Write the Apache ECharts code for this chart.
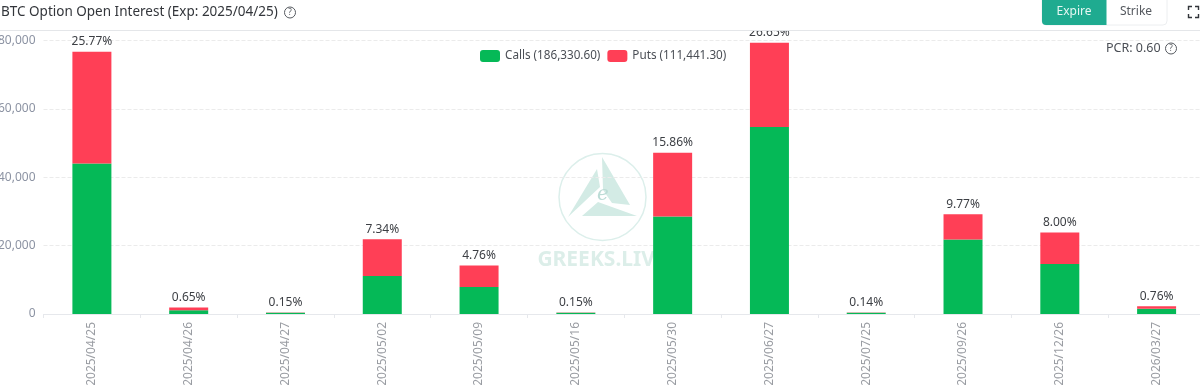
<!DOCTYPE html>
<html>
<head>
<meta charset="utf-8">
<style>html,body{margin:0;padding:0;background:#fff}#c{width:1200px;height:385px}</style>
<script src="https://cdn.jsdelivr.net/npm/echarts@6/dist/echarts.min.js"></script>
</head>
<body>
<div id="c"></div>
<script>
const categories = ['2025/04/25','2025/04/26','2025/04/27','2025/05/02','2025/05/09','2025/05/16','2025/05/30','2025/06/27','2025/07/25','2025/09/26','2025/12/26','2026/03/27'];
const calls = [44000,1100,380,11100,7900,380,28500,54700,350,21800,14650,1500];
const puts = [32700,835,67,10750,6270,67,18700,24650,67,7390,9220,760];
const shares = ['25.77%','0.65%','0.15%','7.34%','4.76%','0.15%','15.86%','26.65%','0.14%','9.77%','8.00%','0.76%'];
const callsName = 'Calls (186,330.60)';
const putsName = 'Puts (111,441.30)';
const titleText = 'BTC Option Open Interest (Exp: 2025/04/25)';
const pcrText = 'PCR: 0.60';

const FONT = '"Noto Sans", sans-serif';
const HELP = (cx, cy) => ([
  {type:'circle', shape:{cx, cy, r:5.5}, style:{fill:'none', stroke:'#55595f', lineWidth:1}, zlevel:2},
  {type:'text', x:cx, y:cy, style:{text:'?', fill:'#55595f', font:'8px '+FONT, align:'center', verticalAlign:'middle'}, zlevel:2}
]);
const corner = pts => ({type:'polyline', shape:{points:pts}, style:{fill:'none', stroke:'#33363b', lineWidth:1.4}, zlevel:2});

const chart = echarts.init(document.getElementById('c'), null, {renderer:'canvas'});
chart.setOption({
  animation:false,
  textStyle:{fontFamily:FONT},
  grid:{left:43.5, right:-5, top:40.5, bottom:71, containLabel:false, outerBoundsMode:'none'},
  legend:{
    left:475, top:45, itemWidth:20, itemHeight:12, itemGap:7,
    icon:'roundRect',
    textStyle:{color:'#4a4e55', fontSize:11.7, fontFamily:FONT},
    data:[callsName, putsName]
  },
  xAxis:{
    type:'category', data:categories,
    axisLine:{lineStyle:{color:'#e6e8ec'}},
    axisTick:{show:true, length:4, lineStyle:{color:'#e6e8ec'}},
    axisLabel:{rotate:90, color:'#9a9da3', fontSize:12, margin:8, fontFamily:FONT}
  },
  yAxis:{
    type:'value', min:0, max:80000, interval:20000,
    axisLine:{show:false}, axisTick:{show:false},
    splitLine:{lineStyle:{color:'#ebebeb', type:'dashed'}},
    axisLabel:{color:'#8c93a3', fontSize:12, margin:8, fontFamily:FONT,
      formatter:v=>v.toLocaleString('en-US')}
  },
  series:[
    {name:callsName, type:'bar', stack:'oi', barWidth:39, data:calls,
     itemStyle:{color:'#05B957'}},
    {name:putsName, type:'bar', stack:'oi', barWidth:39, data:puts,
     itemStyle:{color:'#FF3F56'},
     label:{show:true, position:'top', distance:4, color:'#3c3f44', fontSize:12, fontFamily:FONT,
       formatter:p=>shares[p.dataIndex]}}
  ],
  graphic:[
    {type:'group', z:-1, silent:true, children:[
      {type:'circle', shape:{cx:602.5, cy:197, r:43.5}, style:{fill:'none', stroke:'#dcefeb', lineWidth:1.5}},
      {type:'polygon', shape:{points:[[602,157],[630,205],[612,203],[603,190]]}, style:{fill:'#d3ebe5'}},
      {type:'polygon', shape:{points:[[597,169],[600,187],[568,217]]}, style:{fill:'#d3ebe5'}},
      {type:'polygon', shape:{points:[[598,202],[637,216],[582,216]]}, style:{fill:'#d3ebe5'}},
      {type:'text', x:603, y:195, style:{text:'e', fill:'#bcdcd6', font:'italic 20px "DejaVu Serif"', align:'center', verticalAlign:'middle'}},
      {type:'text', x:602, y:260, style:{text:'GREEKS.LIVE', fill:'#dceee9', font:'bold 21px '+FONT, align:'center', verticalAlign:'middle'}}
    ]},
    {type:'rect', shape:{x:0, y:0, width:1200, height:30.5}, style:{fill:'#fff'}, zlevel:1},
    {type:'line', shape:{x1:0, y1:30.5, x2:1200, y2:30.5}, style:{stroke:'#e4e6e9', lineWidth:1}, zlevel:2},
    {type:'text', x:1, y:12.5, style:{text:titleText, fill:'#33363b', font:'13.5px '+FONT, verticalAlign:'middle'}, zlevel:2},
    ...HELP(290, 12.5),
    {type:'rect', shape:{x:1042, y:-6, width:125, height:31, r:4}, style:{fill:'#fff', stroke:'#eceef0', lineWidth:1}, zlevel:2},
    {type:'rect', shape:{x:1042, y:-6, width:64.5, height:31, r:[0,0,0,4]}, style:{fill:'#1FAB90'}, zlevel:2},
    {type:'text', x:1074, y:12, style:{text:'Expire', fill:'#e6f7f3', font:'12px '+FONT, align:'center', verticalAlign:'middle'}, zlevel:2},
    {type:'text', x:1136, y:12, style:{text:'Strike', fill:'#55595f', font:'12px '+FONT, align:'center', verticalAlign:'middle'}, zlevel:2},
    corner([[1188.5,10],[1188.5,6.5],[1192,6.5]]),
    corner([[1195,6.5],[1198.5,6.5],[1198.5,10]]),
    corner([[1188.5,14],[1188.5,17.5],[1192,17.5]]),
    corner([[1195,17.5],[1198.5,17.5],[1198.5,14]]),
    {type:'text', x:1106, y:48.5, style:{text:pcrText, fill:'#4a4e55', font:'12.5px '+FONT, verticalAlign:'middle'}, zlevel:2},
    ...HELP(1171, 48.5)
  ]
});
</script>
</body>
</html>
